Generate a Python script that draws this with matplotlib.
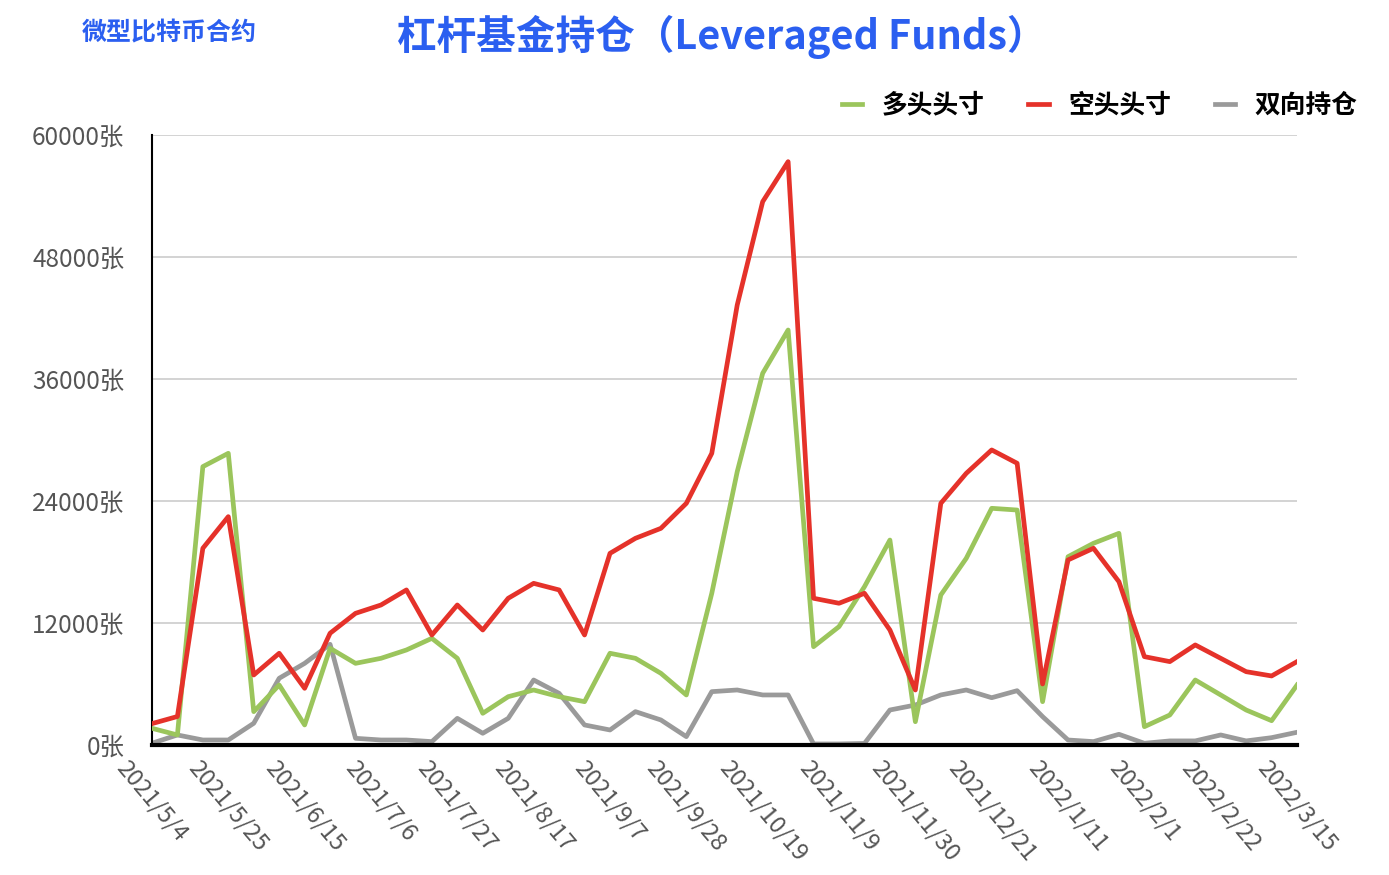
import numpy as np
import matplotlib
matplotlib.use('Agg')
import matplotlib.pyplot as plt

plt.rcParams['font.family'] = ['Noto Sans CJK SC', 'DejaVu Sans']

# 每周数据 2021/5/4 - 2022/3/15
long_pos = [1640, 985, 27380, 28690, 3280, 5900, 1970, 9510, 8030, 8525,
            9345, 10490, 8525, 3115, 4750, 5410, 4750, 4260, 9020, 8525,
            7050, 4920, 14920, 26880, 36560, 40820, 9670, 11640, 15570, 20160,
            2290, 14750, 18360, 23280, 23110, 4260, 18520, 19840, 20820, 1800,
            2950, 6390, 4920, 3440, 2390, 5900]
short_pos = [2100, 2800, 19350, 22460, 6885, 9020, 5575, 10990, 12950, 13770,
             15250, 10820, 13770, 11310, 14430, 15900, 15250, 10820, 18850, 20330,
             21310, 23770, 28690, 43280, 53440, 57380, 14430, 13940, 14920, 11310,
             5410, 23770, 26720, 29020, 27710, 6000, 18200, 19350, 16060, 8690,
             8200, 9840, 8525, 7210, 6790, 8200]
spread_pos = [170, 985, 490, 490, 2135, 6560, 8030, 9900, 655, 490,
              490, 330, 2620, 1150, 2620, 6390, 5080, 1970, 1475, 3280,
              2460, 820, 5245, 5410, 4920, 4920, 100, 100, 150, 3440,
              3930, 4920, 5410, 4650, 5340, 2790, 490, 330, 1050, 165,
              400, 400, 985, 400, 720, 1250]

tick_labels = ['2021/5/4', '2021/5/25', '2021/6/15', '2021/7/6', '2021/7/27',
               '2021/8/17', '2021/9/7', '2021/9/28', '2021/10/19', '2021/11/9',
               '2021/11/30', '2021/12/21', '2022/1/11', '2022/2/1', '2022/2/22',
               '2022/3/15']
y_ticks = [0, 12000, 24000, 36000, 48000, 60000]

x = np.arange(len(long_pos))

fig = plt.figure(figsize=(13.89, 8.75), dpi=100)
ax = fig.add_axes([0.1094, 0.1486, 0.8244, 0.6971])

ax.plot(x, long_pos, color='#9bc55c', lw=3.4, label='多头头寸', zorder=3)
ax.plot(x, short_pos, color='#e5322a', lw=3.4, label='空头头寸', zorder=4)
ax.plot(x, spread_pos, color='#9a9a9a', lw=3.4, label='双向持仓', zorder=2)

ax.set_xlim(0, len(x) - 1)
ax.set_ylim(0, 60000)
ax.set_yticks(y_ticks)
ax.set_yticklabels([f'{v}张' for v in y_ticks])
ax.set_xticks(x[::3])
ax.set_xticklabels(tick_labels, rotation=-50, ha='center', va='top')

ax.grid(axis='y', color='#cccccc', lw=1.2)
ax.set_axisbelow(True)
for s in ['top', 'right']:
    ax.spines[s].set_visible(False)
ax.spines['left'].set_linewidth(1.5)
ax.spines['bottom'].set_linewidth(3)
ax.spines['left'].set_color('black')
ax.spines['bottom'].set_color('black')
ax.tick_params(axis='y', length=0, pad=20, labelsize=17.5, labelcolor='#555555')
ax.tick_params(axis='x', length=0, pad=8, labelsize=17, labelcolor='#555555')

fig.text(0.059, 0.962, '微型比特币合约', color='#2b5ff0', fontsize=18,
         fontweight='bold', va='center', ha='left')
fig.text(0.5195, 0.958, '杠杆基金持仓（Leveraged Funds）', color='#2b5ff0',
         fontsize=28.5, fontweight='bold', va='center', ha='center')

ax.legend(loc='center right', bbox_to_anchor=(1.073, 1.049), ncol=3,
          frameon=False, handlelength=0.8, handletextpad=0.75, columnspacing=1.7,
          prop={'size': 18.5, 'weight': 'bold'})

fig.savefig('out.png', dpi=100)
